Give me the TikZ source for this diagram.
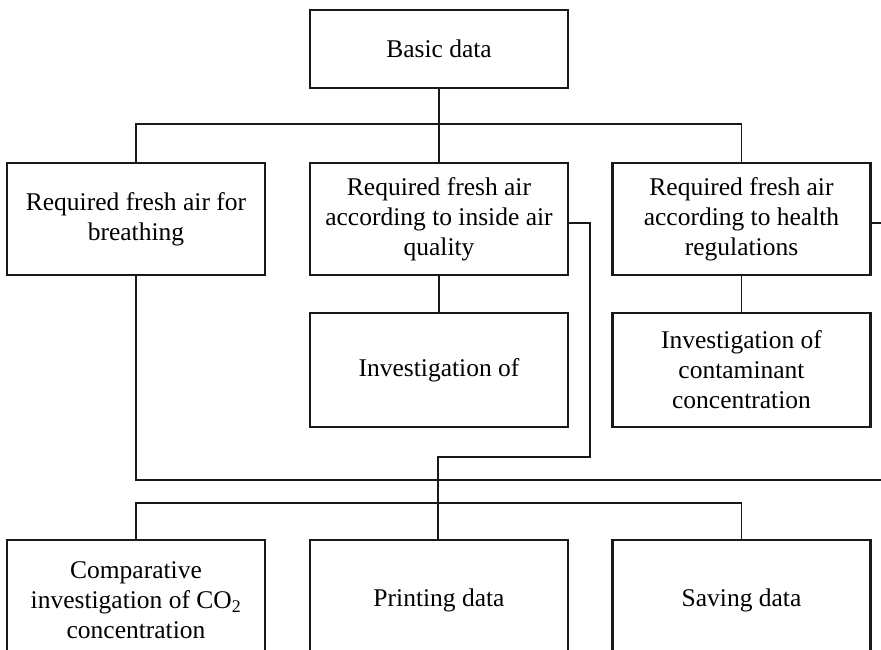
\documentclass[tikz,border=0pt]{standalone}
\usepackage{fontspec}
\setmainfont{Liberation Serif}
\usetikzlibrary{calc}
\begin{document}
\begin{tikzpicture}[x=1pt,y=-1pt,
  box/.style={draw=black!90,line width=2.6pt,minimum width=258pt,minimum height=112pt,
    inner sep=0pt,align=center,font=\fontsize{25.5}{30}\selectfont},
  conn/.style={draw=black!90,line width=1.9pt}]
\clip (0,0) rectangle (881,649);
\fill[white] (0,0) rectangle (881,649);
\node[box,minimum height=78pt] (basic) at (439,49) {Basic data};
\node[box] (ra) at (136,219) {Required fresh air for\\breathing};
\node[box] (rb) at (439,219) {Required fresh air\\according to inside air\\quality};
\node[box] (rc) at (741.5,219) {Required fresh air\\according to health\\regulations};
\node[box,minimum height=114pt] (inv) at (439,370) {Investigation of};
\node[box,minimum height=114pt] (cont) at (741.5,370) {Investigation of\\contaminant\\concentration};
\node[box,minimum height=120pt] (ba) at (136,600) {Comparative\\investigation of CO\textsubscript{2}\\concentration};
\node[box,minimum height=120pt] (bb) at (439,600) {Printing data};
\node[box,minimum height=120pt] (bc) at (741.5,600) {Saving data};
\coordinate (bar1) at (439,124);
\coordinate (edgeA) at (881,223);
\coordinate (edgeB) at (881,480);
\coordinate (bar2) at (438,503);
% top tree
\draw[conn] (basic.south) -- (bar1);
\draw[conn] (ra.north) |- (bar1) -| (rc.north);
\draw[conn] (bar1) -- (rb.north);
\draw[conn] (rb.south) -- (inv.north);
\draw[conn] (rc.south) -- (cont.north);
\draw[conn] ($(rc.east)+(0,4)$) -- (edgeA);
\draw[conn] (ra.south) |- (edgeB);
\draw[conn] ($(rb.east)+(0,4)$) -- (590,223) -- (590,457) -- (438,457) -- (438,540);
% bottom tree
\draw[conn] (ba.north) |- (bar2) -| (bc.north);
\end{tikzpicture}
\end{document}
